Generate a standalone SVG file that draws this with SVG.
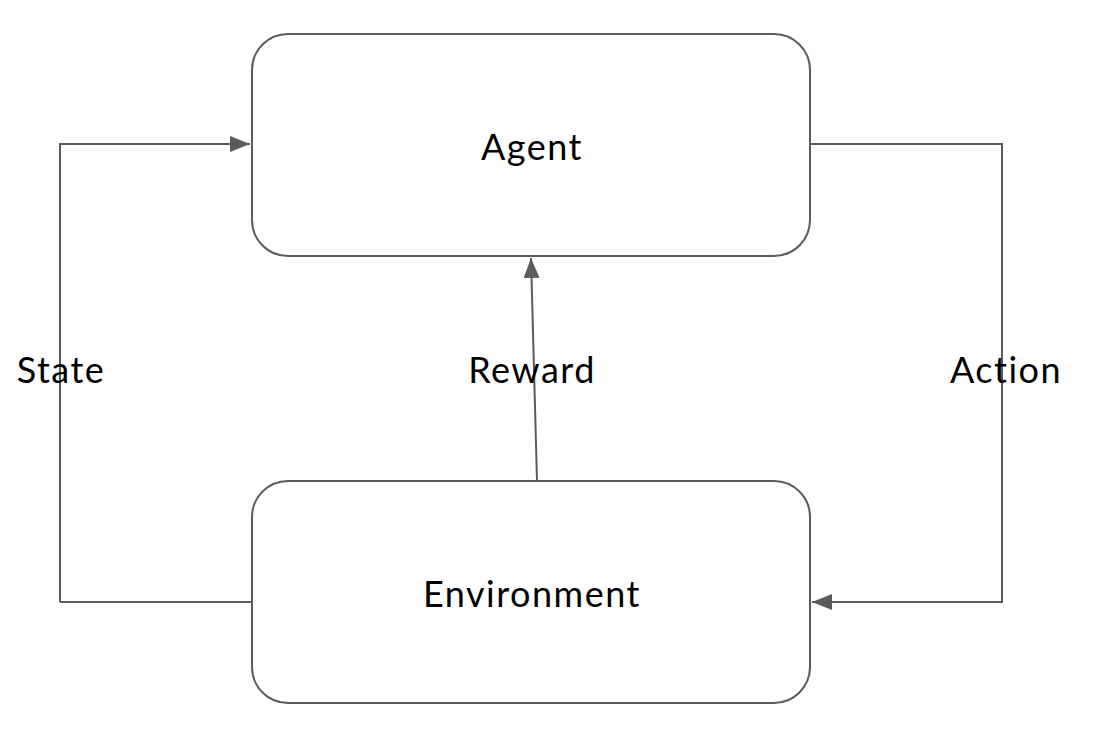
<svg xmlns="http://www.w3.org/2000/svg" width="1096" height="736" viewBox="0 0 1096 736">
<style>
.box{fill:#fff;stroke:#5b5b5b;stroke-width:2}
.ln{fill:none;stroke:#5b5b5b;stroke-width:2}
text{font-family:"Lato","Noto Sans",sans-serif;font-size:36px;letter-spacing:1.5px;fill:#000;text-anchor:middle;dominant-baseline:central}
</style>
<defs>
<marker id="ahb" viewBox="0 0 20 16" refX="20" refY="8" markerWidth="20" markerHeight="16" markerUnits="userSpaceOnUse" orient="auto">
<path d="M0,0 L20,8 L0,16 z" fill="#5b5b5b"/>
</marker>
</defs>
<g id="connectors">
<path class="ln" d="M60,602 L60,144 L250,144" marker-end="url(#ahb)"/>
<line class="ln" x1="60" y1="602" x2="252" y2="602"/>
<path class="ln" d="M810,144 L1002,144 L1002,602 L812,602" marker-end="url(#ahb)"/>
<line class="ln" x1="537" y1="481" x2="531" y2="258" marker-end="url(#ahb)"/>
</g>
<g id="agent">
<rect class="box" x="252" y="34" width="558" height="222" rx="36"/>
<text x="532" y="146">Agent</text>
</g>
<g id="environment">
<rect class="box" x="252" y="481" width="558" height="222" rx="36"/>
<text x="532" y="593">Environment</text>
</g>
<g id="labels">
<text x="61" y="369">State</text>
<text x="532" y="369">Reward</text>
<text x="1006" y="369">Action</text>
</g>
</svg>
